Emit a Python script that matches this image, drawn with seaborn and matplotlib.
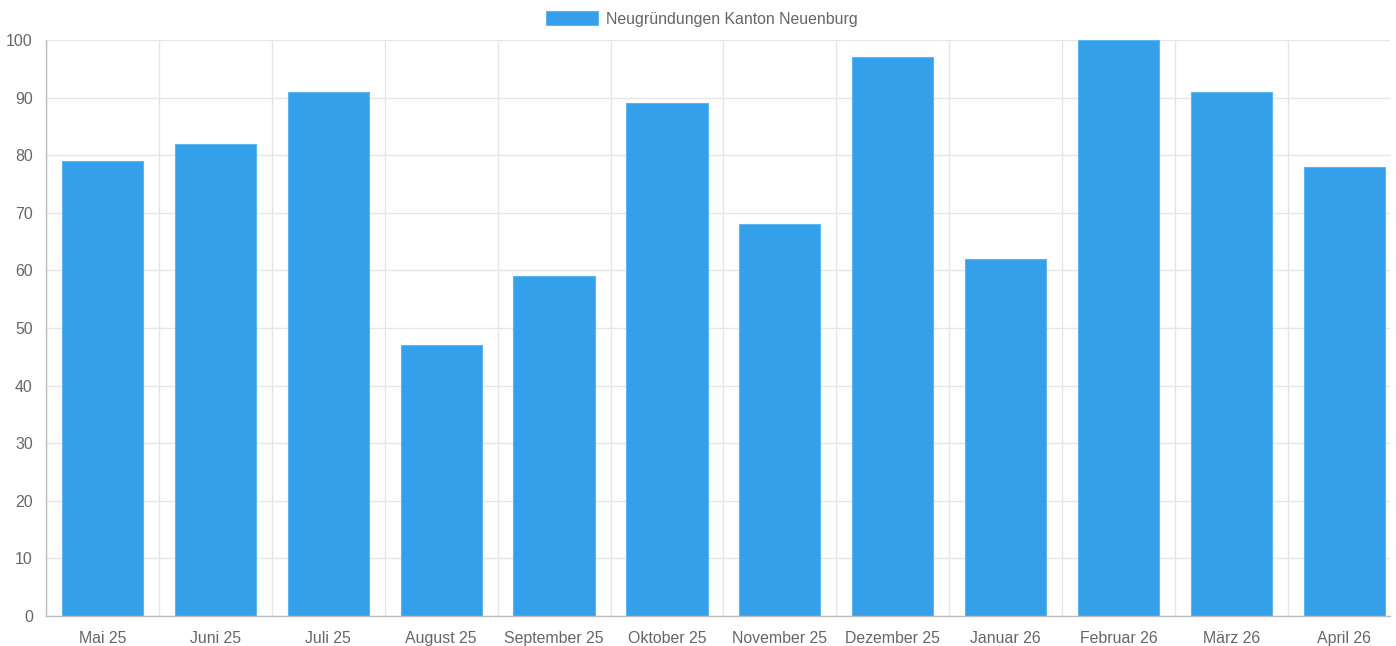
import matplotlib
matplotlib.use("Agg")
import matplotlib.pyplot as plt
import seaborn as sns
import pandas as pd
import numpy as np
from matplotlib.patches import Patch

months = ["Mai 25", "Juni 25", "Juli 25", "August 25", "September 25", "Oktober 25",
          "November 25", "Dezember 25", "Januar 26", "Februar 26", "März 26", "April 26"]
values = [79, 82, 91, 47, 59, 89, 68, 97, 62, 100, 91, 78]
series_name = "Neugründungen Kanton Neuenburg"

sns.set_theme(style="white")
plt.rcParams['font.family'] = ['Liberation Sans', 'DejaVu Sans']

W, H = 1396, 646
fig = plt.figure(figsize=(W / 100, H / 100), dpi=100)
left_px, right_px, top_px, bottom_px = 46, 1390, 40, 616
ax = fig.add_axes([left_px / W, (H - bottom_px) / H, (right_px - left_px) / W, (bottom_px - top_px) / H])

df = pd.DataFrame({"month": months, "value": values})
bar_color = "#34a0e9"
sns.barplot(data=df, x="month", y="value", color=bar_color, width=0.72,
            saturation=1, ax=ax, edgecolor="#5db4ee", linewidth=0.8)

cat_px = 112.9
ax.set_xlim(-0.5, -0.5 + (right_px - left_px) / cat_px)
ax.set_ylim(0, 100)
ax.set_yticks(np.arange(0, 101, 10))
ax.set_xlabel("")
ax.set_ylabel("")

grid_c = "#e6e6e6"
text_c = "#666666"
fs = 11.4
ax.set_xticks(np.arange(-0.5, len(months) - 0.5, 1), minor=True)
ax.grid(True, axis="y", which="major", color=grid_c, linewidth=1)
ax.grid(True, axis="x", which="minor", color=grid_c, linewidth=1)
ax.grid(False, axis="x", which="major")
ax.set_axisbelow(True)

ax.tick_params(axis="x", which="major", length=0, pad=10.5, labelsize=fs, labelcolor=text_c)
ax.tick_params(axis="x", which="minor", length=10, width=1, color=grid_c, direction="out")
ax.tick_params(axis="y", which="major", length=4.5, width=1, color=grid_c, pad=5,
               labelsize=fs, labelcolor=text_c)

for s in ["top", "right"]:
    ax.spines[s].set_visible(False)
for s in ["left", "bottom"]:
    ax.spines[s].set_color("#bdbdbd")
    ax.spines[s].set_linewidth(1)

handle = Patch(facecolor=bar_color, edgecolor="#5db4ee", linewidth=0.8)
fig.legend([handle], [series_name], loc="center", bbox_to_anchor=(702 / W, 1 - 19 / H),
           frameon=False, fontsize=fs, labelcolor=text_c, handlelength=3.3,
           handleheight=1.0, handletextpad=0.5, borderpad=0)

fig.savefig("out.png", dpi=100)
